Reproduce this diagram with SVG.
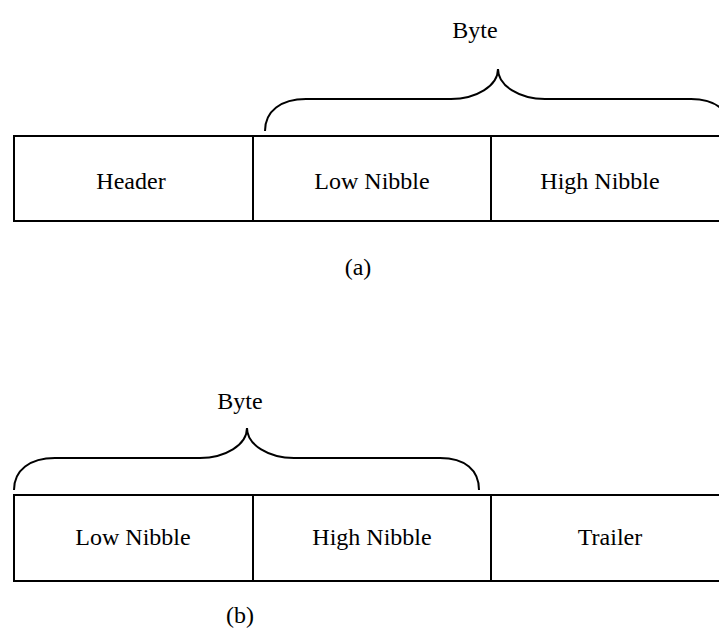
<svg xmlns="http://www.w3.org/2000/svg" width="719" height="637" viewBox="0 0 719 637">
  <style>
    .cell { fill: #ffffff; stroke: #000000; stroke-width: 2; }
    .brace { fill: none; stroke: #000000; stroke-width: 2; }
    .label { font-family: "Liberation Serif", "Times New Roman", serif; font-size: 24px; fill: #000000; text-anchor: middle; }
  </style>
  <defs>
    <!-- curly brace spanning two cells, cusp at the top -->
    <path id="byteBrace" class="brace" d="M14,490 C14,470 30,458 55,458 L200,458 C225,458 247,445 247,428 C247,445 269,458 294,458 L440,458 C465,458 479,470 479,490"/>
  </defs>
  <rect width="719" height="637" fill="#ffffff"/>

  <!-- (a) header followed by a byte -->
  <g id="frame-a">
    <g id="a-header">
      <rect class="cell" x="14" y="136" width="239" height="85"/>
      <text class="label" x="131" y="189">Header</text>
    </g>
    <g id="a-low">
      <rect class="cell" x="253" y="136" width="238" height="85"/>
      <text class="label" x="372" y="189">Low Nibble</text>
    </g>
    <g id="a-high">
      <rect class="cell" x="491" y="136" width="240" height="85"/>
      <text class="label" x="600" y="189">High Nibble</text>
    </g>
    <g id="a-byte">
      <use href="#byteBrace" transform="translate(251,-359)"/>
      <text class="label" x="475" y="38">Byte</text>
    </g>
    <text class="label" x="358" y="275">(a)</text>
  </g>

  <!-- (b) byte followed by a trailer -->
  <g id="frame-b">
    <g id="b-low">
      <rect class="cell" x="14" y="495" width="239" height="86"/>
      <text class="label" x="133" y="545">Low Nibble</text>
    </g>
    <g id="b-high">
      <rect class="cell" x="253" y="495" width="238" height="86"/>
      <text class="label" x="372" y="545">High Nibble</text>
    </g>
    <g id="b-trailer">
      <rect class="cell" x="491" y="495" width="240" height="86"/>
      <text class="label" x="610" y="545">Trailer</text>
    </g>
    <g id="b-byte">
      <use href="#byteBrace"/>
      <text class="label" x="240" y="409">Byte</text>
    </g>
    <text class="label" x="240" y="623">(b)</text>
  </g>
</svg>
